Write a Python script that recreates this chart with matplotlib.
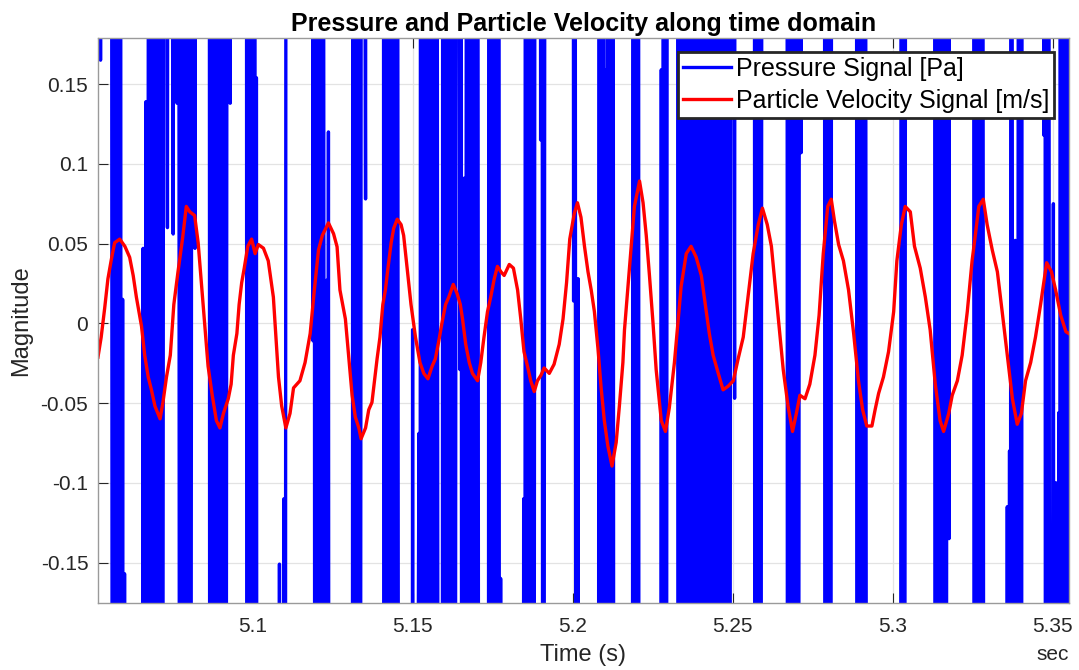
import numpy as np
import matplotlib
matplotlib.use("Agg")
import matplotlib.pyplot as plt

plt.rcParams['font.family'] = ['Liberation Sans', 'DejaVu Sans']

# Particle velocity (red): time (s) and value (m/s)
vel_time = [
    5.0517, 5.0527, 5.0538, 5.0548, 5.0559, 5.0569, 5.0585, 5.0601, 5.0616, 5.0627,
    5.0637, 5.0653, 5.0663, 5.0674, 5.0684, 5.0695, 5.0711, 5.0720, 5.0731, 5.0743,
    5.0754, 5.0767, 5.0781, 5.0793, 5.0804, 5.0819, 5.0830, 5.0840, 5.0851, 5.0861,
    5.0874, 5.0887, 5.0898, 5.0909, 5.0924, 5.0933, 5.0940, 5.0951, 5.0958, 5.0966,
    5.0974, 5.0985, 5.0997, 5.1008, 5.1018, 5.1034, 5.1049, 5.1065, 5.1081, 5.1091,
    5.1104, 5.1117, 5.1128, 5.1148, 5.1164, 5.1180, 5.1193, 5.1206, 5.1218, 5.1237,
    5.1253, 5.1264, 5.1273, 5.1290, 5.1300, 5.1311, 5.1321, 5.1332, 5.1339, 5.1353,
    5.1363, 5.1373, 5.1381, 5.1389, 5.1398, 5.1407, 5.1415, 5.1423, 5.1433, 5.1441,
    5.1452, 5.1464, 5.1472, 5.1483, 5.1495, 5.1509, 5.1523, 5.1535, 5.1548, 5.1561,
    5.1571, 5.1582, 5.1592, 5.1603, 5.1613, 5.1627, 5.1639, 5.1649, 5.1656, 5.1666,
    5.1677, 5.1687, 5.1703, 5.1713, 5.1723, 5.1734, 5.1744, 5.1755, 5.1765, 5.1776,
    5.1786, 5.1802, 5.1815, 5.1828, 5.1838, 5.1848, 5.1859, 5.1869, 5.1880, 5.1890,
    5.1901, 5.1911, 5.1927, 5.1942, 5.1958, 5.1970, 5.1981, 5.1991, 5.2005, 5.2015,
    5.2026, 5.2037, 5.2048, 5.2058, 5.2068, 5.2079, 5.2089, 5.2099, 5.2110, 5.2123,
    5.2136, 5.2146, 5.2157, 5.2162, 5.2172, 5.2183, 5.2193, 5.2209, 5.2220, 5.2230,
    5.2240, 5.2251, 5.2261, 5.2277, 5.2290, 5.2302, 5.2318, 5.2329, 5.2339, 5.2355,
    5.2370, 5.2386, 5.2402, 5.2416, 5.2427, 5.2439, 5.2455, 5.2470, 5.2486, 5.2502,
    5.2517, 5.2533, 5.2548, 5.2564, 5.2580, 5.2593, 5.2608, 5.2621, 5.2632, 5.2645,
    5.2658, 5.2673, 5.2687, 5.2699, 5.2710, 5.2726, 5.2741, 5.2757, 5.2770, 5.2783,
    5.2797, 5.2808, 5.2818, 5.2831, 5.2846, 5.2862, 5.2878, 5.2893, 5.2906, 5.2919,
    5.2935, 5.2945, 5.2956, 5.2971, 5.2987, 5.3003, 5.3013, 5.3027, 5.3039, 5.3055,
    5.3068, 5.3086, 5.3102, 5.3117, 5.3133, 5.3148, 5.3159, 5.3175, 5.3186, 5.3202,
    5.3217, 5.3233, 5.3248, 5.3258, 5.3269, 5.3283, 5.3295, 5.3311, 5.3327, 5.3342,
    5.3358, 5.3374, 5.3389, 5.3402, 5.3415, 5.3431, 5.3446, 5.3462, 5.3481, 5.3496,
    5.3509, 5.3525, 5.3541, 5.3550,
]
vel_value = [
    -0.0212, -0.0087, 0.0096, 0.0278, 0.0403, 0.0505, 0.0528, 0.0483, 0.0414, 0.0300,
    0.0164, -0.0018, -0.0200, -0.0337, -0.0417, -0.0519, -0.0599, -0.0496, -0.0337, -0.0200,
    0.0118, 0.0323, 0.0528, 0.0733, 0.0699, 0.0676, 0.0505, 0.0255, -0.0018, -0.0269,
    -0.0451, -0.0610, -0.0656, -0.0565, -0.0473, -0.0382, -0.0200, -0.0064, 0.0118, 0.0255,
    0.0346, 0.0483, 0.0528, 0.0437, 0.0494, 0.0471, 0.0392, 0.0164, -0.0337, -0.0519,
    -0.0656, -0.0565, -0.0405, -0.0360, -0.0246, -0.0064, 0.0209, 0.0460, 0.0551, 0.0630,
    0.0562, 0.0480, 0.0209, 0.0027, -0.0200, -0.0451, -0.0587, -0.0656, -0.0724, -0.0656,
    -0.0542, -0.0496, -0.0360, -0.0223, -0.0087, 0.0118, 0.0209, 0.0346, 0.0505, 0.0596,
    0.0653, 0.0619, 0.0551, 0.0346, 0.0118, -0.0087, -0.0246, -0.0314, -0.0348, -0.0269,
    -0.0223, -0.0109, 0.0005, 0.0118, 0.0164, 0.0244, 0.0187, 0.0118, 0.0027, -0.0132,
    -0.0246, -0.0314, -0.0360, -0.0246, -0.0087, 0.0073, 0.0164, 0.0278, 0.0357, 0.0323,
    0.0300, 0.0369, 0.0346, 0.0209, 0.0027, -0.0178, -0.0269, -0.0360, -0.0428, -0.0360,
    -0.0326, -0.0280, -0.0314, -0.0257, -0.0132, 0.0027, 0.0255, 0.0528, 0.0687, 0.0756,
    0.0665, 0.0483, 0.0323, 0.0209, 0.0073, -0.0155, -0.0405, -0.0610, -0.0769, -0.0895,
    -0.0747, -0.0519, -0.0246, -0.0041, 0.0209, 0.0483, 0.0733, 0.0892, 0.0756, 0.0551,
    0.0300, 0.0005, -0.0291, -0.0610, -0.0678, -0.0530, -0.0246, 0.0005, 0.0232, 0.0437,
    0.0483, 0.0414, 0.0300, 0.0096, -0.0064, -0.0200, -0.0314, -0.0417, -0.0394, -0.0360,
    -0.0223, -0.0087, 0.0164, 0.0437, 0.0619, 0.0722, 0.0619, 0.0483, 0.0255, -0.0018,
    -0.0291, -0.0519, -0.0678, -0.0565, -0.0451, -0.0473, -0.0382, -0.0200, 0.0050, 0.0437,
    0.0733, 0.0778, 0.0642, 0.0494, 0.0392, 0.0209, -0.0064, -0.0360, -0.0542, -0.0644,
    -0.0644, -0.0542, -0.0439, -0.0337, -0.0178, 0.0073, 0.0392, 0.0619, 0.0733, 0.0699,
    0.0483, 0.0346, 0.0164, -0.0041, -0.0382, -0.0610, -0.0678, -0.0565, -0.0451, -0.0360,
    -0.0200, 0.0073, 0.0392, 0.0551, 0.0733, 0.0778, 0.0619, 0.0460, 0.0323, 0.0073,
    -0.0200, -0.0473, -0.0633, -0.0565, -0.0360, -0.0246, -0.0087, 0.0118, 0.0380, 0.0323,
    0.0209, 0.0050, -0.0052, -0.0064,
]

# Pressure (blue) samples: time in ms after 5 s, value in Pa (mostly far off-scale)
pres_ms = [
    51.0, 52.2, 52.5, 52.8, 55.8, 56.3, 57.1, 57.9, 58.7, 59.0, 59.4, 59.7, 60.0, 60.2,
    65.5, 65.8, 66.2, 66.7, 67.0, 67.7, 68.5, 69.3, 70.1, 70.9, 71.7, 72.5, 73.4, 73.8,
    75.2, 75.6, 76.4, 76.8, 77.3, 78.1, 78.9, 79.7, 80.5, 81.3, 82.0, 82.3, 86.4, 86.7,
    87.5, 88.3, 89.1, 89.9, 90.7, 91.5, 92.3, 93.0, 93.4, 98.0, 98.3, 99.1, 99.9, 100.6,
    101.0, 101.2, 101.5, 108.1, 108.4, 108.7, 109.8, 110.1, 110.6, 118.6, 118.9, 119.2,
    119.5, 120.3, 121.1, 121.9, 122.7, 123.1, 123.4, 123.7, 124.0, 131.1, 131.4, 132.1,
    132.8, 133.5, 134.2, 135.3, 135.6, 140.8, 141.1, 141.9, 142.7, 143.5, 144.3, 145.1,
    145.8, 149.7, 150.0, 150.3, 152.0, 152.2, 152.6, 153.4, 154.2, 155.0, 155.8, 156.6,
    157.4, 158.2, 159.2, 159.5, 160.3, 161.1, 161.7, 162.3, 163.1, 163.9, 164.8, 165.1,
    165.4, 166.1, 166.4, 167.0, 167.8, 168.6, 169.4, 170.2, 170.8, 173.6, 173.9, 174.7,
    175.5, 176.2, 176.9, 177.2, 177.5, 177.8, 184.4, 184.7, 185.0, 185.3, 186.1, 186.9,
    187.7, 188.5, 189.7, 190.0, 190.3, 190.8, 191.6, 200.0, 200.3, 200.6, 201.2, 201.7,
    202.0, 208.0, 208.3, 208.9, 209.5, 209.9, 210.3, 210.6, 210.9, 211.7, 212.5, 213.0,
    218.6, 218.9, 219.7, 220.5, 220.8, 227.4, 227.7, 228.0, 228.4, 229.1, 229.8, 232.7,
    233.0, 233.9, 234.5, 235.3, 236.1, 236.9, 237.7, 238.5, 239.3, 240.1, 240.9, 241.7,
    242.5, 243.3, 244.1, 244.9, 245.7, 246.5, 247.3, 248.1, 248.9, 249.7, 250.6, 250.9,
    256.7, 257.0, 257.8, 258.6, 259.4, 266.9, 267.2, 268.0, 268.8, 269.6, 270.4, 271.1,
    271.4, 271.7, 278.6, 278.9, 279.7, 280.5, 281.1, 288.6, 288.9, 289.7, 290.5, 291.3,
    292.0, 302.4, 302.7, 303.5, 304.3, 313.0, 313.3, 314.1, 314.9, 315.7, 316.5, 317.3,
    317.6, 317.9, 325.2, 325.5, 326.3, 327.1, 327.9, 328.7, 335.5, 335.8, 336.1, 336.5,
    336.7, 337.0, 337.8, 338.3, 338.8, 339.5, 340.1, 340.6, 346.9, 347.2, 347.5, 347.8,
    348.6, 349.2, 350.2, 350.5, 351.0, 351.3, 351.9, 352.1, 352.4, 353.2, 354.0, 354.8,
    355.6,
]
pres_value = [
    1, 1, .165, 1, 1, -1, 1, -1, 1, -1, .015, -1, -.157, -1,
    -1, .047, -1, .139, -1, 1, -1, 1, -1, 1, -1, 1, .060, 1,
    .056, 1, .138, 1, -1, 1, -1, 1, -1, 1, .047, 1, 1, -1,
    1, -1, 1, -1, 1, -1, 1, .138, 1, 1, -1, 1, -1, 1,
    -1, .154, -1, -1, -.151, -1, -.110, -1, 1, 1, -.011, 1,
    -1, 1, -1, 1, -1, .027, -1, .12, -1, -1, 1, -1,
    1, -1, 1, .078, 1, 1, -1, 1, -1, 1, -1, 1,
    -1, -1, -.004, -1, -.069, -1, 1, -1, 1, -1, 1, -1,
    1, -1, -1, 1, -1, 1, -1, 1, -1, 1, -.029, 1,
    -1, .091, -1, 1, -1, 1, -1, 1, -1, -1, 1, -1,
    1, -1, 1, -1, -.16, -1, -1, -.11, -1, 1, -1, 1,
    -1, 1, 1, .115, 1, -1, 1, 1, .014, 1, -1, .028,
    -1, -1, 1, -1, 1, -1, .159, -1, 1, -1, 1, -1,
    -1, 1, -1, 1, -1, -1, .159, -1, 1, -1, 1, 1,
    -1, 1, -1, 1, -1, 1, -1, 1, -1, 1, -1, 1,
    -1, 1, -1, 1, -1, 1, -1, 1, -1, 1, -.047, 1,
    1, -1, 1, -1, 1, 1, -1, 1, -1, 1, -1, 1,
    .107, 1, 1, -1, 1, -1, 1, 1, -1, 1, -1, 1,
    -1, -1, 1, -1, 1, 1, -1, 1, -1, 1, -1, 1,
    -.135, 1, 1, -1, 1, -1, 1, -1, -1, -.115, -1, -.08,
    -1, 1, -1, .052, -1, 1, -1, 1, 1, .118, 1, -1,
    1, -1, .075, -1, -.10, -1, -.056, -1, 1, -1, 1, -1,
    1,
]

y_ticks = [-0.15, -0.1, -0.05, 0, 0.05, 0.1, 0.15]
y_ticklabels = ["-0.15", "-0.1", "-0.05", "0", "0.05", "0.1", "0.15"]
x_ticks = [5.1, 5.15, 5.2, 5.25, 5.3, 5.35]
x_ticklabels = ["5.1", "5.15", "5.2", "5.25", "5.3", "5.35"]

pres_time = 5.0 + np.array(pres_ms) / 1000.0

fig = plt.figure(figsize=(10.79, 6.70), dpi=100)
ax = fig.add_axes([0.0908, 0.1004, 0.8997, 0.8424])

ax.plot(pres_time, pres_value, color=(0, 0, 1), lw=2.4, label="Pressure Signal [Pa]")
ax.plot(vel_time, vel_value, color=(1, 0, 0), lw=2.4, label="Particle Velocity Signal [m/s]")

ax.set_xlim(5.0517, 5.3550)
ax.set_ylim(-0.1752, 0.1787)
ax.set_xticks(x_ticks)
ax.set_xticklabels(x_ticklabels)
ax.set_yticks(y_ticks)
ax.set_yticklabels(y_ticklabels)

ax.grid(True, color="#e3e3e3", lw=0.9)
ax.set_axisbelow(True)
ax.tick_params(direction="in", length=7, width=0.8, top=True, right=True,
               colors="#262626", labelsize=15)
ax.tick_params(axis="x", pad=10)
ax.tick_params(axis="y", pad=7)
for s in ax.spines.values():
    s.set_color("#9a9a9a")
    s.set_linewidth(1.0)

ax.set_title("Pressure and Particle Velocity along time domain",
             fontsize=18, fontweight="bold", pad=5)
ax.set_xlabel("Time (s)", fontsize=17, color="#262626", labelpad=6)
ax.set_ylabel("Magnitude", fontsize=17, color="#262626", labelpad=6)
fig.text(1068.7 / 1079, 1 - 655 / 670, "sec", ha="right", va="center",
         fontsize=15, color="#262626")

leg = ax.legend(loc="upper right", bbox_to_anchor=(0.985, 0.9757), borderaxespad=0,
                fontsize=18, fancybox=False, framealpha=1, edgecolor="#262626",
                handlelength=1.9, handletextpad=0.2, borderpad=0.2, labelspacing=0.3)
leg.get_frame().set_linewidth(2.0)

fig.savefig("out.png", dpi=100)
